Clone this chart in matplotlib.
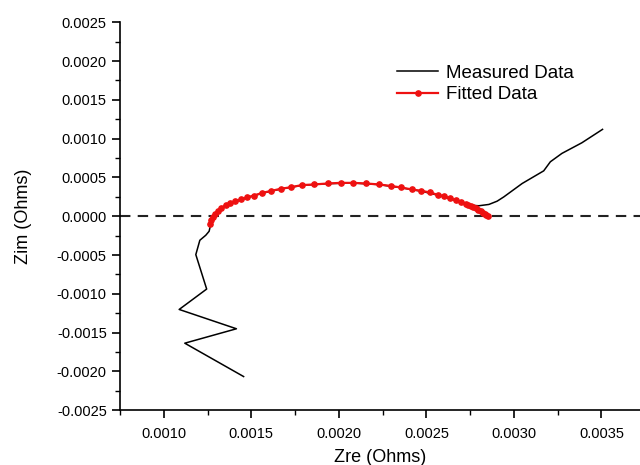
import matplotlib
matplotlib.use("Agg")
import matplotlib.pyplot as plt
from matplotlib.ticker import MultipleLocator, FormatStrFormatter

plt.rcParams["font.family"] = ["Liberation Sans", "DejaVu Sans"]

# Measured impedance (Zre, Zim) in Ohms
meas_zre = [0.001456, 0.00112, 0.001415, 0.001088, 0.001245, 0.001183, 0.001206,
            0.00124, 0.001259, 0.001267, 0.001281, 0.00131, 0.001354, 0.001407,
            0.001475, 0.001563, 0.001667, 0.001788, 0.001936, 0.002083, 0.002227,
            0.002354, 0.002472, 0.002567, 0.002635, 0.002698, 0.00276, 0.0028,
            0.002857, 0.002904, 0.002942, 0.003047, 0.00317, 0.003208, 0.003274,
            0.003388, 0.003506]
meas_zim = [-0.002067, -0.001637, -0.001451, -0.001202, -0.000939, -0.000495, -0.00031,
            -0.000245, -0.000194, -0.000116, -0.00002, 0.000065, 0.000138, 0.000186,
            0.000238, 0.000297, 0.00035, 0.000398, 0.00042, 0.000428, 0.000408,
            0.000368, 0.000322, 0.00027, 0.000225, 0.00018, 0.00014, 0.000135,
            0.000152, 0.000194, 0.000249, 0.000422, 0.000585, 0.000702, 0.00081,
            0.000947, 0.00112]

# Fitted impedance
fit_zre = [0.001264, 0.001272, 0.001281, 0.001295, 0.00131, 0.001329, 0.001354,
           0.00138, 0.001407, 0.001439, 0.001475, 0.001515, 0.001563, 0.001614,
           0.001667, 0.001728, 0.001788, 0.00186, 0.001936, 0.00201, 0.002083,
           0.002155, 0.002227, 0.002295, 0.002354, 0.002417, 0.002472, 0.002521,
           0.002567, 0.002603, 0.002635, 0.002669, 0.002698, 0.002724, 0.00274,
           0.002752, 0.002766, 0.002781, 0.002795, 0.00281, 0.002822, 0.002834,
           0.002843, 0.00285]
fit_zim = [-0.000095, -0.00005, -0.00001, 0.000035, 0.000069, 0.000108, 0.000142,
           0.000168, 0.00019, 0.000216, 0.000242, 0.000267, 0.000301, 0.000327,
           0.000353, 0.000375, 0.000401, 0.00041, 0.000422, 0.00043, 0.00043,
           0.000422, 0.00041, 0.000391, 0.000371, 0.000345, 0.000327, 0.000306,
           0.000275, 0.000258, 0.000229, 0.000207, 0.000185, 0.000164, 0.00015,
           0.000138, 0.00012, 0.000103, 0.000085, 0.000065, 0.000045, 0.000026,
           0.000011, 0.0]

fig = plt.figure(figsize=(6.4, 4.65), dpi=100)
ax = fig.add_axes([0.1875, 0.118, 0.8125, 0.834])

ax.axhline(0, color="#222222", lw=1.5, ls=(0, (5, 3.5)), zorder=1)
ax.plot(meas_zre, meas_zim, color="black", lw=1.1, label="Measured Data", zorder=2)
ax.plot(fit_zre, fit_zim, color="#ee1111", lw=1.6, marker="o", ms=3.8,
        label="Fitted Data", zorder=3)

ax.set_xlim(0.00075, 0.00372)
ax.set_ylim(-0.0025, 0.0025)
ax.xaxis.set_major_locator(MultipleLocator(0.0005))
ax.xaxis.set_minor_locator(MultipleLocator(0.00025))
ax.yaxis.set_major_locator(MultipleLocator(0.0005))
ax.yaxis.set_minor_locator(MultipleLocator(0.00025))
ax.xaxis.set_major_formatter(FormatStrFormatter("%.4f"))
ax.yaxis.set_major_formatter(FormatStrFormatter("%.4f"))

for side in ("top", "right"):
    ax.spines[side].set_visible(False)
for side in ("left", "bottom"):
    ax.spines[side].set_linewidth(1.2)

ax.tick_params(which="major", direction="out", length=6, width=1.2, labelsize=10.5)
ax.tick_params(which="minor", direction="out", length=3.5, width=1.0)
ax.tick_params(axis="x", pad=6)

ax.set_xlabel("Zre (Ohms)", fontsize=13, labelpad=6)
ax.set_ylabel("Zim (Ohms)", fontsize=13, labelpad=18)

ax.legend(loc="upper left", bbox_to_anchor=(0.5, 0.935), frameon=False,
          fontsize=13.5, handlelength=2.2, handletextpad=0.4, labelspacing=0.25)

fig.savefig("out.png", dpi=100)
